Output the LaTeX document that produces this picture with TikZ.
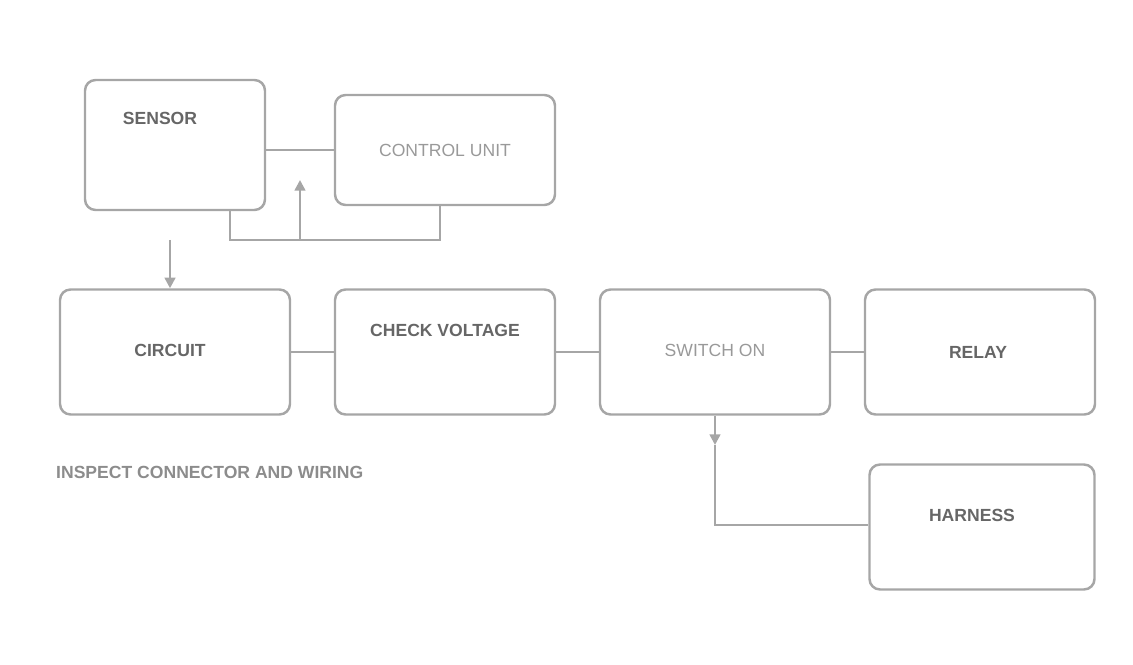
\documentclass[tikz,border=0pt]{standalone}
\usepackage{fontspec}
\setmainfont{Liberation Sans}
\usetikzlibrary{arrows.meta}
\begin{document}
\begin{tikzpicture}[x=0.02cm,y=-0.02cm,
  box/.style={draw=black!35,line width=1.4pt,rounded corners=6pt,inner sep=0pt},
  lbl/.style={text=black!60,font=\bfseries},
  lbllight/.style={text=black!40,font=\normalsize},
  conn/.style={draw=black!35,line width=1.4pt},
  arr/.style={conn,-{Triangle[length=6pt,width=6pt]}}]
\useasboundingbox (0,0) rectangle (1133,665);
% boxes
\node[box,minimum width=180*0.02cm,minimum height=130*0.02cm] (A) at (175,145) {};
\node[box,minimum width=220*0.02cm,minimum height=110*0.02cm] (B) at (445,150) {};
\node[box,minimum width=230*0.02cm,minimum height=125*0.02cm] (C) at (175,352) {};
\node[box,minimum width=220*0.02cm,minimum height=125*0.02cm] (D) at (445,352) {};
\node[box,minimum width=230*0.02cm,minimum height=125*0.02cm] (E) at (715,352) {};
\node[box,minimum width=230*0.02cm,minimum height=125*0.02cm] (F) at (980,352) {};
\node[box,minimum width=225*0.02cm,minimum height=125*0.02cm] (G) at (982,527) {};
% texts
\node[lbl] (tA) at (160,118) {SENSOR};
\node[lbllight] (tB) at (445,150) {CONTROL UNIT};
\node[lbl] (tC) at (170,350) {CIRCUIT};
\node[lbl,align=center] (tD) at (445,330) {CHECK VOLTAGE};
\node[lbllight] (tE) at (715,350) {SWITCH ON};
\node[lbl] (tF) at (978,352) {RELAY};
\node[lbl] (tG) at (972,515) {HARNESS};
\node[lbl,text=black!45,anchor=west] (cap) at (50,472) {INSPECT CONNECTOR AND WIRING};
% connectors
\draw[conn] (A.east |- B.west) -- (B.west);
\coordinate (j1) at (230,240);
\coordinate (j2) at (440,240);
\coordinate (j3) at (170,240);
\draw[conn] (A.south -| j1) -- (j1) -- (j2) -- (B.south -| j2);
\draw[arr] (300,240) -- (300,180);
\draw[arr] (j3) -- (C.north -| j3);
\draw[conn] (C.east) -- (D.west);
\draw[conn] (D.east) -- (E.west);
\draw[conn] (E.east) -- (F.west);
\coordinate (k1) at (715,525);
\draw[arr] (E.south) -- (715,445);
\draw[conn] (715,445) -- (k1) -- (G.west |- k1);
\end{tikzpicture}
\end{document}
